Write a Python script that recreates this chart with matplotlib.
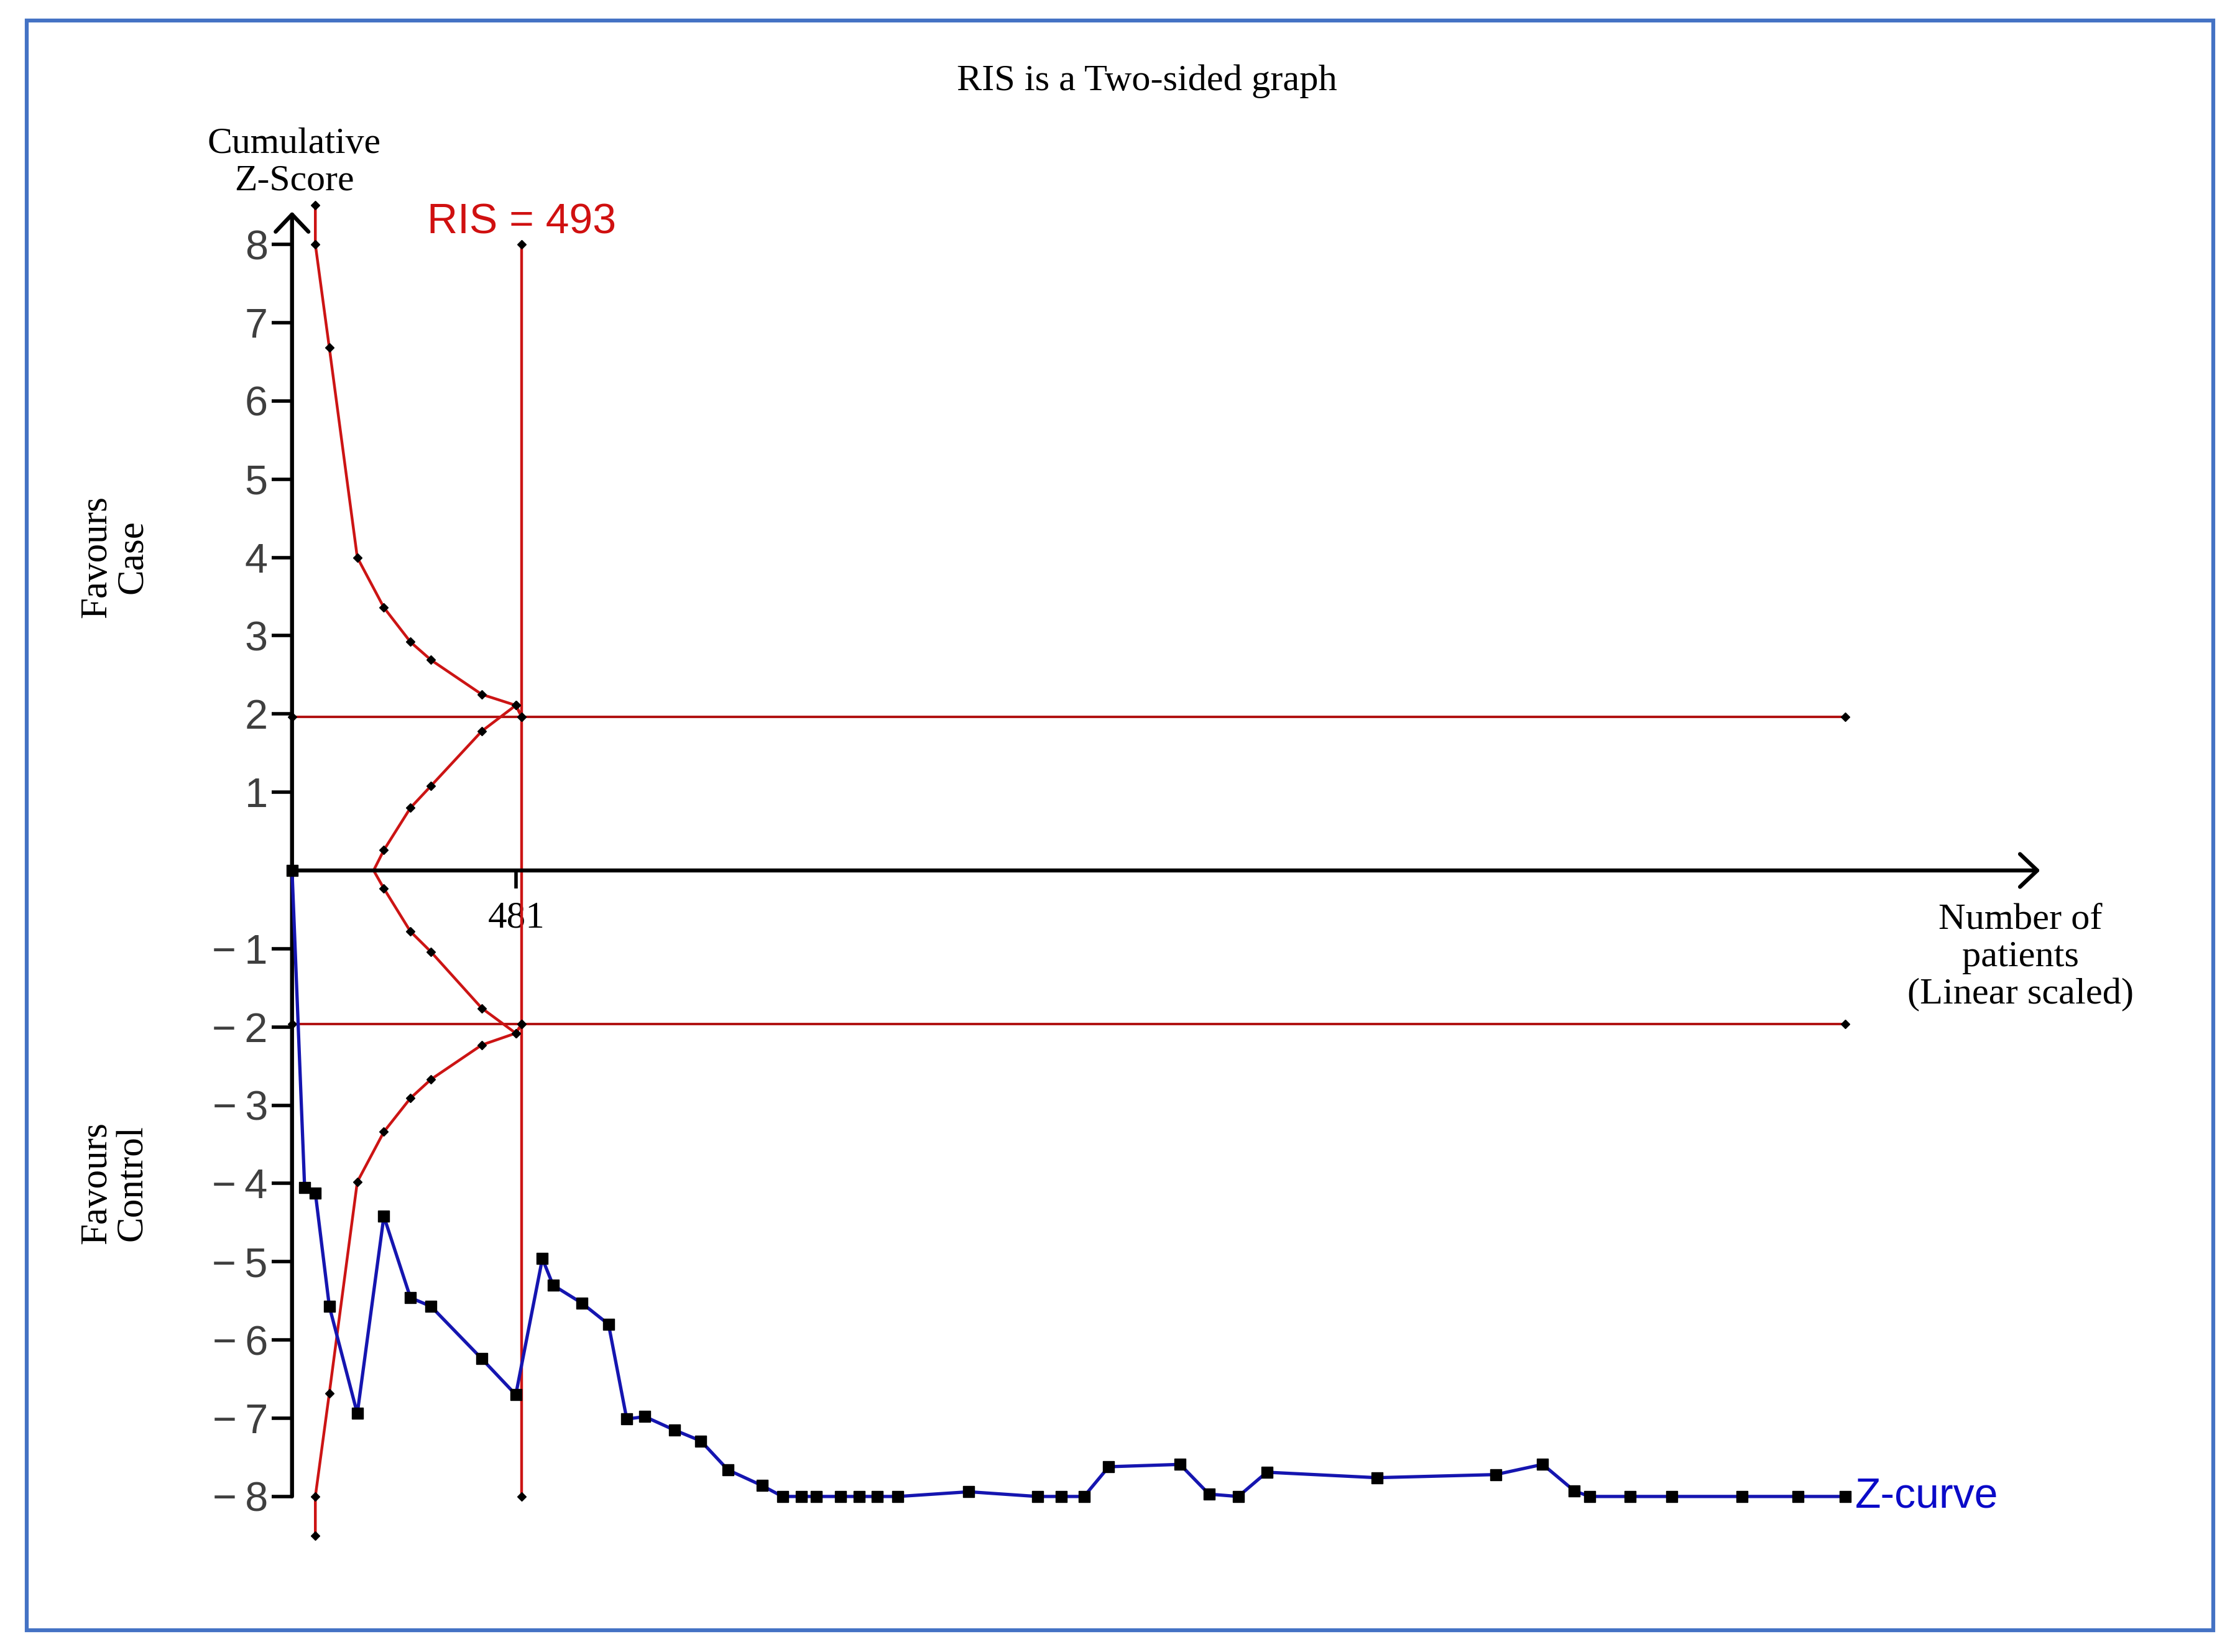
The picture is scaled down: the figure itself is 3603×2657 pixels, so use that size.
import matplotlib
matplotlib.use('Agg')
import matplotlib.pyplot as plt
from matplotlib.patches import Rectangle

# cumulative z-curve (number of patients, z-score)
z_patients = [0, 27, 50, 80, 140, 197, 254, 298, 407, 480,
              537, 560, 622, 679, 718, 757, 820, 877, 935, 1008,
              1052, 1092, 1125, 1176, 1217, 1256, 1300, 1452, 1599, 1650,
              1699, 1752, 1905, 1967, 2030, 2091, 2327, 2582, 2683, 2751,
              2784, 2870, 2960, 3111, 3231, 3332]
z_scores = [0, -4.05, -4.12, -5.57, -6.94, -4.42, -5.46, -5.57, -6.24, -6.70,
            -4.96, -5.30, -5.53, -5.80, -7.01, -6.98, -7.15, -7.29, -7.66, -7.86,
            -8, -8, -8, -8, -8, -8, -8, -7.94, -8, -8,
            -8, -7.62, -7.59, -7.97, -8, -7.69, -7.76, -7.72, -7.59, -7.93,
            -8, -8, -8, -8, -8, -8]

# monitoring boundaries
outer_n = [50, 50, 80, 140, 197, 254, 298, 407, 480, 493]
outer_upper = [8.5, 8.0, 6.68, 4.0, 3.36, 2.92, 2.69, 2.25, 2.11, 1.96]
outer_lower = [-8.5, -8.0, -6.68, -3.98, -3.34, -2.91, -2.67, -2.23, -2.08, -1.96]

inner_n = [175, 197, 254, 298, 407, 480, 493]
inner_upper = [0, 0.26, 0.80, 1.08, 1.78, 2.11, 1.96]
inner_lower = [0, -0.23, -0.78, -1.04, -1.76, -2.08, -1.96]

ris = 493
tick_n = 481
conv_z = 1.96
max_n = 3332
yticks = [-8, -7, -6, -5, -4, -3, -2, -1, 1, 2, 3, 4, 5, 6, 7, 8]

red = '#CC1414'
dark_red = '#B01010'
blue = '#1515B0'
serif = ['Liberation Serif', 'DejaVu Serif']
sans = ['Liberation Sans', 'DejaVu Sans']

fig = plt.figure(figsize=(36.03, 26.57), dpi=100)
ax = fig.add_axes([400 / 3603, 157 / 2657, 3000 / 3603, 2200 / 2657])
ax.set_xlim(-93, 3908)
ax.set_ylim(-8.74, 8.74)

# frame around the whole picture
fig.patches.append(Rectangle((43 / 3603, 35 / 2657), 3517 / 3603, 2589 / 2657,
                             transform=fig.transFigure, fill=False,
                             edgecolor='#4472C4', lw=4.5))

# axes: hide spines, keep ticks at zero
for s in ['top', 'right']:
    ax.spines[s].set_visible(False)
ax.spines['left'].set_position(('data', 0))
ax.spines['bottom'].set_position(('data', 0))
ax.spines['left'].set_color('none')
ax.spines['bottom'].set_color('none')

ax.set_yticks(yticks)
ax.set_yticklabels([('\u2212\u2009%d' % -v) if v < 0 else str(v) for v in yticks],
                   family=sans, fontsize=48, color='#3f3f3f')
ax.tick_params(axis='y', direction='out', length=24, width=4, pad=4)

ax.set_xticks([tick_n])
ax.set_xticklabels([str(tick_n)], family=serif, fontsize=44)
ax.tick_params(axis='x', direction='out', length=21, width=4, pad=14)

# axis arrows
arr = dict(arrowstyle='->,head_length=0.4,head_width=0.38', lw=4.6, color='black',
           shrinkA=0, shrinkB=0, mutation_scale=50)
ax.annotate('', xy=(0, 8.42), xytext=(0, -8), arrowprops=arr)
ax.annotate('', xy=(3750, 0), xytext=(0, 0), arrowprops=arr)

# boundaries
mk = dict(marker='D', ms=7.5, mfc='black', mec='black')
ax.plot([0, max_n], [conv_z, conv_z], color=dark_red, lw=2.8, **mk)
ax.plot([0, max_n], [-conv_z, -conv_z], color=dark_red, lw=2.8, **mk)
ax.plot([ris, ris], [-8, 8], color=red, lw=3.2, **mk)
ax.plot(outer_n, outer_upper, color=red, lw=3.2, **mk)
ax.plot(outer_n, outer_lower, color=red, lw=3.2, **mk)
ax.plot(inner_n, inner_upper, color=red, lw=3.2, markevery=list(range(1, len(inner_n))), **mk)
ax.plot(inner_n, inner_lower, color=red, lw=3.2, markevery=list(range(1, len(inner_n))), **mk)

# z-curve
ax.plot(z_patients, z_scores, color=blue, lw=3.8, marker='s', ms=13, mfc='black', mec='black', zorder=5)

ax.annotate('Z-curve', xy=(z_patients[-1], z_scores[-1]), xytext=(16, 0),
            textcoords='offset pixels', va='center', ha='left',
            family=sans, fontsize=49, color='#0A0AC8')
ax.annotate('RIS = %d' % ris, xy=(ris, 8), xytext=(0, 36), textcoords='offset pixels',
            ha='center', va='center', family=sans, fontsize=49, color='#D01010')

fig.text(0.5121, 0.9508, 'RIS is a Two-sided graph', ha='center', va='center',
         family=serif, fontsize=43.5)
fig.text(0.1313, 0.9015, 'Cumulative\nZ-Score', ha='center', va='center',
         family=serif, fontsize=43, linespacing=1.12)
fig.text(0.0511, 0.6628, 'Favours\nCase', ha='center', va='center', rotation=90,
         family=serif, fontsize=44, linespacing=1.05)
fig.text(0.0511, 0.2838, 'Favours\nControl', ha='center', va='center', rotation=90,
         family=serif, fontsize=44, linespacing=1.05)
fig.text(0.902, 0.4205, 'Number of\npatients\n(Linear scaled)', ha='center', va='center',
         family=serif, fontsize=43.5, linespacing=1.15)

fig.savefig('out.png', dpi=100, facecolor='white')
